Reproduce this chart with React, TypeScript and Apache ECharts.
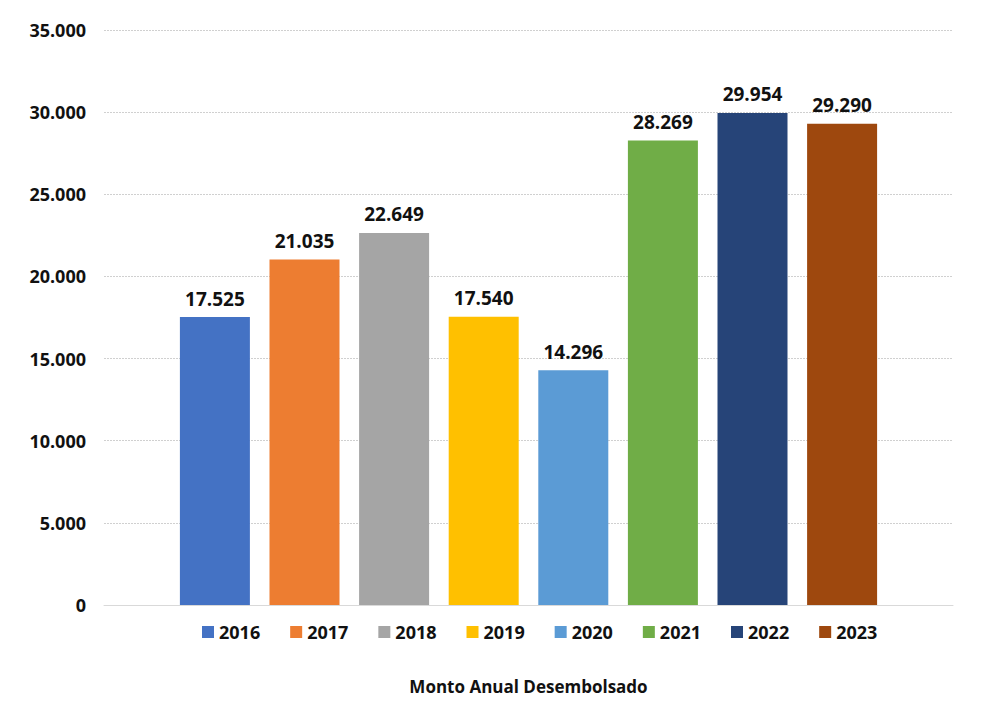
import React, { useEffect, useRef } from "react";
import * as echarts from "echarts";

const years = ["2016", "2017", "2018", "2019", "2020", "2021", "2022", "2023"];
const values = [17525, 21035, 22649, 17540, 14296, 28269, 29954, 29290];
const colors = ["#4472C4", "#ED7D31", "#A5A5A5", "#FFC000", "#5B9BD5", "#70AD47", "#264478", "#9E480E"];
const category = ["Monto Anual Desembolsado"];

const fmt = (v: number) => String(v).replace(/\B(?=(\d{3})+(?!\d))/g, ".");
const FONT = "Open Sans";

export default function App() {
  const ref = useRef<HTMLDivElement>(null);
  useEffect(() => {
    if (!ref.current) return;
    const chart = echarts.init(ref.current, null, { renderer: "svg" });
    chart.setOption({
      animation: false,
      backgroundColor: "#ffffff",
      textStyle: { fontFamily: FONT },
      grid: { left: 104, right: 44, top: 30, bottom: 103, containLabel: false },
      legend: {
        data: years,
        top: 616,
        left: 197,
        itemWidth: 12,
        itemHeight: 12,
        itemGap: 30,
        itemStyle: { borderWidth: 0 },
        icon: "rect",
        textStyle: { fontFamily: FONT, fontWeight: "bold", fontSize: 18, lineHeight: 22, color: "#111" },
      },
      xAxis: {
        type: "category",
        data: category,
        axisTick: { show: false },
        axisLine: { lineStyle: { color: "#d9d9d9" } },
        axisLabel: {
          margin: 73,
          fontFamily: FONT,
          fontWeight: "bold",
          fontSize: 17,
          color: "#111",
        },
      },
      yAxis: {
        type: "value",
        min: 0,
        max: 35000,
        interval: 5000,
        axisLine: { show: false },
        axisTick: { show: false },
        splitLine: { lineStyle: { color: "#d0d0d0", type: [2, 1] } },
        axisLabel: {
          margin: 18,
          fontFamily: FONT,
          fontWeight: "bold",
          fontSize: 18,
          color: "#111",
          formatter: (v: number) => fmt(v),
        },
      },
      series: years.map((y, i) => ({
        name: y,
        type: "bar",
        barWidth: 70,
        barGap: "28%",
        itemStyle: { color: colors[i] },
        data: [values[i]],
        label: {
          show: true,
          position: "top",
          distance: 9,
          fontFamily: FONT,
          fontWeight: "bold",
          fontSize: 19,
          color: "#111",
          formatter: (p: any) => fmt(p.value),
        },
      })),
    });
    return () => chart.dispose();
  }, []);
  return <div ref={ref} style={{ position: "fixed", left: 0, top: 0, width: 997, height: 708 }} />;
}
